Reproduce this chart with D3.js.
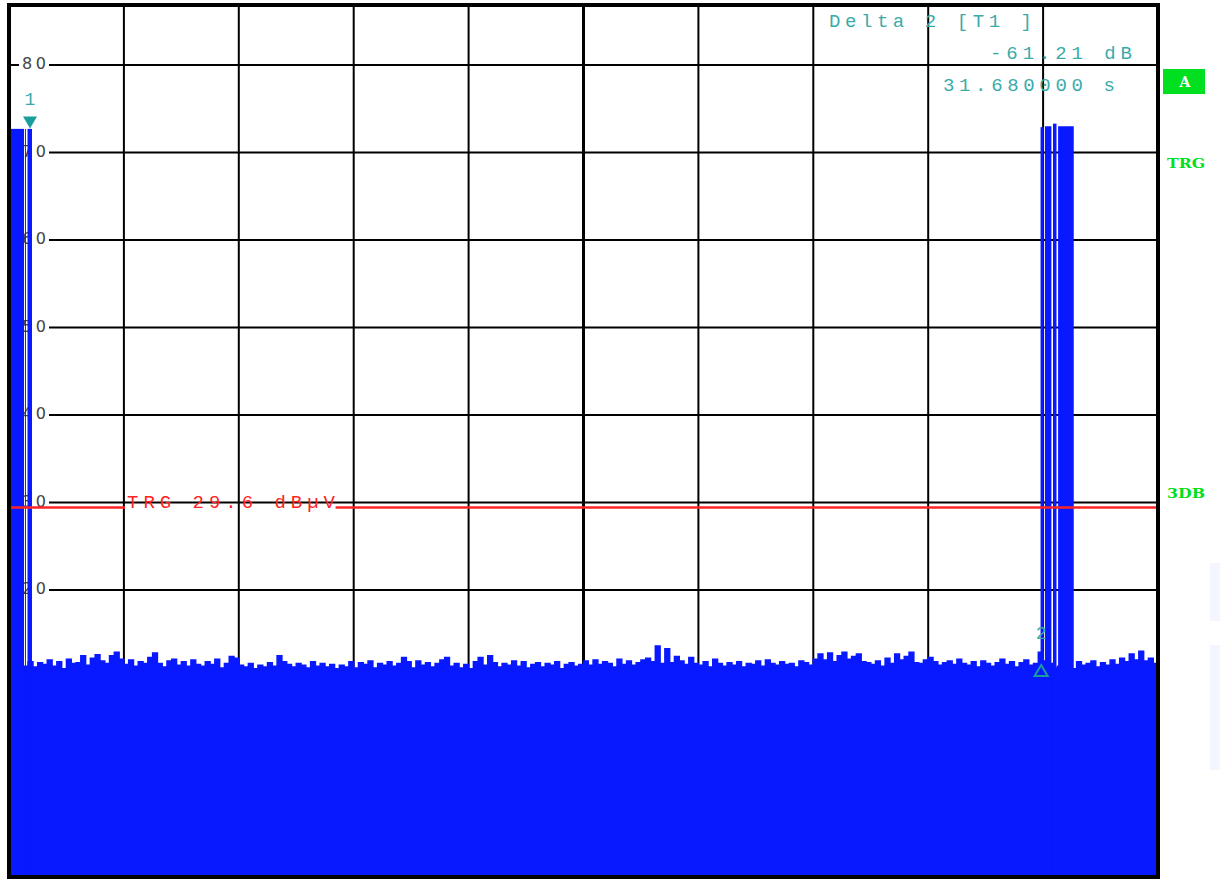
<!DOCTYPE html>
<html><head><meta charset="utf-8">
<script src="https://cdn.jsdelivr.net/npm/d3@7"></script>
<style>body{margin:0;background:#fff}svg{display:block}</style>
</head><body>
<svg id="c" width="1220" height="879"></svg>
<script>
// ---------- data ----------
const sweepTime = 36; // seconds across the screen
const gridTimes = [0, 3.6, 7.2, 10.8, 14.4, 18, 21.6, 25.2, 28.8, 32.4, 36];
const yTickValues = [80, 70, 60, 50, 40, 30, 20, 10, 0, -10];
const yTickLabels = ["80", "70", "60", "50", "40", "30", "20", "10", "0", "-10"];
// noise trace (dBµV), 240 bins over the sweep
const noiseDb = [
 10.9,11.1,10.7,11.3,11.8,11.2,11.7,11.5,12.0,11.3,
 11.8,11.0,12.1,11.6,11.7,12.5,11.4,12.2,12.6,11.9,
 11.6,12.5,12.9,12.1,11.5,12.0,11.3,11.8,11.6,12.3,
 12.8,11.6,11.2,11.9,12.1,11.4,11.8,11.3,12.0,11.5,
 11.3,11.8,11.5,12.1,11.1,11.6,12.4,12.2,11.4,11.2,
 11.6,11.0,11.4,11.2,11.7,11.3,12.5,11.8,11.5,11.2,
 11.6,11.4,11.1,11.8,11.3,11.6,11.2,11.5,11.0,11.4,
 11.2,11.8,11.1,11.7,11.5,11.9,11.1,11.6,11.4,11.8,
 11.3,11.6,12.3,11.8,11.1,11.9,11.4,11.7,11.2,11.6,
 12.0,12.3,11.3,11.6,11.1,11.5,11.0,11.8,12.3,11.4,
 12.5,11.7,11.2,11.6,11.4,11.9,11.3,11.8,11.1,11.5,
 11.7,11.2,11.6,11.4,11.8,11.0,11.5,11.7,11.3,11.5,
 11.9,11.4,12.0,11.5,11.8,11.6,11.2,12.1,11.5,11.9,
 11.4,11.7,12.0,12.2,11.8,13.6,11.6,13.3,11.7,12.4,
 11.9,11.5,12.3,11.6,11.4,11.8,11.2,12.1,11.6,11.3,
 11.7,11.4,11.8,11.2,11.6,11.5,11.9,11.3,12.0,11.6,
 11.4,11.8,11.5,11.6,11.2,11.9,11.7,11.4,12.1,12.7,
 12.0,12.8,11.8,12.5,12.9,12.1,12.4,12.7,11.8,11.7,
 11.5,11.9,11.3,12.2,11.6,12.7,12.0,12.4,12.9,11.7,
 11.6,12.0,12.3,11.8,11.4,11.7,11.9,11.5,12.1,11.6,
 11.4,11.8,11.2,11.9,11.6,11.3,11.7,12.1,11.5,11.8,
 11.2,11.7,12.0,11.4,11.6,12.9,11.9,11.6,11.1,11.3,
 11.5,12.1,11.0,11.8,11.4,11.6,11.9,11.2,11.7,11.4,
 12.0,11.5,12.2,11.8,12.7,12.0,13.0,11.9,12.2,11.6
];
// carrier bursts: [start s, end s, level dBµV]
const burstStart = [0.00, 0.50, 0.58, 32.32, 32.46, 32.71, 32.87];
const burstEnd   = [0.47, 0.53, 0.72, 32.42, 32.66, 32.82, 33.36];
const burstLevel = [72.7, 72.7, 72.7, 72.9, 73.0, 73.3, 73.0];
const markerIds = ["1", "2"];
const markerTimes = [0.658, 32.338];
const markerLevels = [72.74, 11.53];
const triggerDb = 29.6;
const triggerLabel = "TRG 29.6 dBµV";
const deltaLines = ["Delta 2 [T1 ]", "-61.21 dB", "31.680000 s"];
const sideLabels = ["A", "TRG", "3DB"];

// ---------- layout ----------
const L = 9, R = 1158, T = 5, B = 877;
const x = d3.scaleLinear().domain([0, sweepTime]).range([L, R]);
const y = d3.scaleLinear().domain([80, 20]).range([65, 590]);
const svg = d3.select("#c");
const BLUE = "#0818ff", TEAL = "#3aabab", TEAL2 = "#1a9d9d", RED = "#ff2424", GREEN = "#00e020";

svg.append("defs").append("clipPath").attr("id", "pc")
  .append("rect").attr("x", L).attr("y", T).attr("width", R - L).attr("height", B - T);

const grid = svg.append("g");
grid.selectAll("line.h").data(yTickValues).join("line")
  .attr("x1", L).attr("x2", R).attr("y1", d => y(d)).attr("y2", d => y(d))
  .attr("stroke", "#000").attr("stroke-width", 2);
grid.selectAll("line.v").data(gridTimes.slice(1, -1)).join("line")
  .attr("x1", d => x(d)).attr("x2", d => x(d)).attr("y1", T).attr("y2", B)
  .attr("stroke", "#000").attr("stroke-width", d => d === 18 ? 3 : 2);

// y labels with white background
const yl = svg.append("g");
yTickValues.forEach((v, i) => {
  yl.append("rect").attr("x", 19).attr("y", y(v) - 9).attr("width", 30).attr("height", 18).attr("fill", "#fff");
  yl.append("text").attr("x", 22).attr("y", y(v) + 4)
    .attr("font-family", "DejaVu Sans").attr("font-size", 16).attr("fill", "#444")
    .attr("textLength", 24).attr("lengthAdjust", "spacing").text(yTickLabels[i]);
});

// ---------- trace ----------
const plot = svg.append("g").attr("clip-path", "url(#pc)");
const N = noiseDb.length;
const pts = noiseDb.map((v, i) => [i * sweepTime / N, v]);
pts.push([sweepTime, noiseDb[N - 1]]);
const area = d3.area().x(d => x(d[0])).y0(B + 2).y1(d => y(d[1])).curve(d3.curveStepAfter);
plot.append("path").datum(pts).attr("d", area).attr("fill", BLUE);
const line = d3.line().x(d => x(d[0])).y(d => y(d[1])).curve(d3.curveStepAfter);
plot.append("path").datum(pts).attr("d", line).attr("fill", "none").attr("stroke", BLUE).attr("stroke-width", 1.5);

plot.selectAll("rect.burst").data(burstStart.map((s, i) => [s, burstEnd[i], burstLevel[i]])).join("rect")
  .attr("x", d => x(d[0])).attr("width", d => x(d[1]) - x(d[0]))
  .attr("y", d => y(d[2])).attr("height", d => B + 2 - y(d[2])).attr("fill", BLUE);

// ---------- trigger line ----------
const tl = svg.append("text").attr("x", 127).attr("y", y(triggerDb) + 2)
  .attr("font-family", "Liberation Mono").attr("font-size", 19).attr("fill", RED)
  .attr("textLength", 208).attr("lengthAdjust", "spacing").text(triggerLabel);
const bb = tl.node().getBBox();
[[L, bb.x - 2], [bb.x + bb.width, R]].forEach(s => {
  svg.append("line").attr("x1", s[0]).attr("x2", s[1])
    .attr("y1", y(triggerDb) + 1.5).attr("y2", y(triggerDb) + 1.5)
    .attr("stroke", RED).attr("stroke-width", 2.5);
});

// ---------- markers ----------
markerIds.forEach((id, i) => {
  const mx = x(markerTimes[i]), my = y(markerLevels[i]);
  if (i === 0) {
    svg.append("path").attr("d", `M${mx - 7},${my - 12} L${mx + 7},${my - 12} L${mx},${my} Z`).attr("fill", TEAL2);
    svg.append("text").attr("x", mx).attr("y", my - 24).attr("text-anchor", "middle")
      .attr("font-family", "Liberation Mono").attr("font-size", 18).attr("fill", TEAL).text(id);
  } else {
    svg.append("path").attr("d", `M${mx},${my + 1} L${mx + 6.5},${my + 12} L${mx - 6.5},${my + 12} Z`)
      .attr("fill", "none").attr("stroke", TEAL2).attr("stroke-width", 2);
    svg.append("text").attr("x", mx).attr("y", my - 25).attr("text-anchor", "middle")
      .attr("font-family", "Liberation Mono").attr("font-size", 18).attr("fill", TEAL).text(id);
  }
});

// ---------- frame ----------
svg.append("rect").attr("x", L).attr("y", T).attr("width", R - L).attr("height", B - T)
  .attr("fill", "none").attr("stroke", "#000").attr("stroke-width", 4);

// ---------- delta marker readout ----------
const dl = [[829, 27, 203], [990, 59, 142], [943, 91, 172]];
deltaLines.forEach((t, i) => {
  svg.append("text").attr("x", dl[i][0]).attr("y", dl[i][1])
    .attr("font-family", "Liberation Mono").attr("font-size", 19).attr("fill", TEAL)
    .attr("textLength", dl[i][2]).attr("lengthAdjust", "spacing").text(t);
});

// ---------- side labels ----------
svg.append("rect").attr("x", 1163).attr("y", 69).attr("width", 42).attr("height", 25).attr("fill", GREEN);
svg.append("text").attr("x", 1185).attr("y", 87).attr("text-anchor", "middle")
  .attr("font-family", "DejaVu Serif").attr("font-weight", "bold").attr("font-size", 14)
  .attr("fill", "#fff").text(sideLabels[0]);
[[1167, 168, 38], [1167, 498, 38]].forEach((p, i) => {
  svg.append("text").attr("x", p[0]).attr("y", p[1])
    .attr("font-family", "DejaVu Serif").attr("font-weight", "bold").attr("font-size", 13)
    .attr("fill", GREEN).attr("textLength", p[2]).attr("lengthAdjust", "spacingAndGlyphs").text(sideLabels[i + 1]);
});
// faint artifacts at the far right edge
svg.append("rect").attr("x", 1210).attr("y", 563).attr("width", 10).attr("height", 58).attr("fill", "#f3f6fe");
svg.append("rect").attr("x", 1210).attr("y", 645).attr("width", 10).attr("height", 125).attr("fill", "#f3f6fe");
</script>
</body></html>
